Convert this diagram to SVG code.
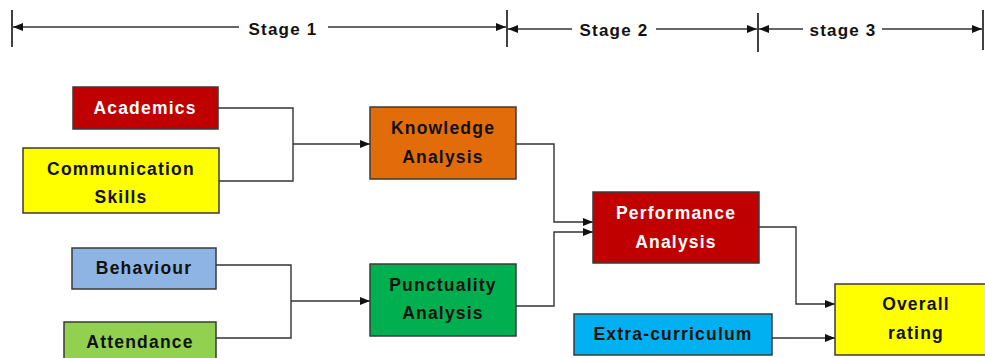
<svg xmlns="http://www.w3.org/2000/svg" width="985" height="358" viewBox="0 0 985 358">
  <style>
    .box { stroke: #3a3a3a; stroke-width: 1.5; }
    .lbl { font-family: "Liberation Sans", Arial, sans-serif; font-weight: bold; font-size: 17.5px; letter-spacing: 1.2px; text-anchor: middle; fill: #111; }
    .wht { fill: #ffffff; }
    .wire { fill: none; stroke: #333; stroke-width: 1.4; }
    .tick { stroke: #111; stroke-width: 1.6; }
    .stage { font-family: "Liberation Sans", Arial, sans-serif; font-weight: bold; font-size: 17px; letter-spacing: 1.2px; text-anchor: middle; fill: #111; }
  </style>
  <defs>
    <marker id="arrow" viewBox="0 0 10 8" refX="10" refY="4" markerWidth="10" markerHeight="8" markerUnits="userSpaceOnUse" orient="auto-start-reverse">
      <path d="M0,0 L10,4 L0,8 z" fill="#111"/>
    </marker>
  </defs>

  <rect width="985" height="358" fill="#ffffff"/>

  <!-- stage ruler -->
  <g id="stages">
    <line class="tick" x1="12" y1="10" x2="12" y2="47"/>
    <line class="tick" x1="507" y1="10" x2="507" y2="47"/>
    <line class="tick" x1="758" y1="13" x2="758" y2="52"/>
    <line class="tick" x1="983" y1="10" x2="983" y2="50"/>
    <line class="wire" x1="239" y1="27" x2="13" y2="27" marker-end="url(#arrow)"/>
    <line class="wire" x1="328" y1="27" x2="506" y2="27" marker-end="url(#arrow)"/>
    <text class="stage" x="283" y="35">Stage 1</text>
    <line class="wire" x1="572" y1="29" x2="508" y2="29" marker-end="url(#arrow)"/>
    <line class="wire" x1="656" y1="29" x2="757" y2="29" marker-end="url(#arrow)"/>
    <text class="stage" x="614" y="36">Stage 2</text>
    <line class="wire" x1="803" y1="29" x2="759" y2="29" marker-end="url(#arrow)"/>
    <line class="wire" x1="882" y1="29" x2="982" y2="29" marker-end="url(#arrow)"/>
    <text class="stage" x="843" y="36">stage 3</text>
  </g>

  <!-- connectors -->
  <g id="connectors">
    <polyline class="wire" points="218,108 293,108 293,181 219,181"/>
    <line class="wire" x1="293" y1="144" x2="370" y2="144" marker-end="url(#arrow)"/>
    <polyline class="wire" points="216,265 291,265 291,338 216,338"/>
    <line class="wire" x1="291" y1="301" x2="370" y2="301" marker-end="url(#arrow)"/>
    <polyline class="wire" points="516,144 554,144 554,222 593,222" marker-end="url(#arrow)"/>
    <polyline class="wire" points="516,306 554,306 554,232 593,232" marker-end="url(#arrow)"/>
    <polyline class="wire" points="759,227 796,227 796,304 835,304" marker-end="url(#arrow)"/>
    <line class="wire" x1="772" y1="338" x2="835" y2="338" marker-end="url(#arrow)"/>
  </g>

  <g id="academics">
    <rect class="box" x="73" y="87" width="145" height="42" fill="#C00000"/>
    <text class="lbl wht" x="145" y="114">Academics</text>
  </g>
  <g id="communication">
    <rect class="box" x="23" y="148" width="196" height="65" fill="#FFFF00"/>
    <text class="lbl" x="121" y="175">Communication</text>
    <text class="lbl" x="121" y="203">Skills</text>
  </g>
  <g id="behaviour">
    <rect class="box" x="72" y="248" width="144" height="41" fill="#8EB4E3"/>
    <text class="lbl" x="144" y="274">Behaviour</text>
  </g>
  <g id="attendance">
    <rect class="box" x="64" y="322" width="152" height="50" fill="#92D050"/>
    <text class="lbl" x="140" y="348">Attendance</text>
  </g>
  <g id="knowledge">
    <rect class="box" x="370" y="107" width="146" height="72" fill="#E36C0A"/>
    <text class="lbl" x="443" y="134">Knowledge</text>
    <text class="lbl" x="443" y="163">Analysis</text>
  </g>
  <g id="punctuality">
    <rect class="box" x="370" y="264" width="146" height="72" fill="#00B050"/>
    <text class="lbl" x="443" y="291">Punctuality</text>
    <text class="lbl" x="443" y="319">Analysis</text>
  </g>
  <g id="performance">
    <rect class="box" x="593" y="192" width="166" height="71" fill="#C00000"/>
    <text class="lbl wht" x="676" y="219">Performance</text>
    <text class="lbl wht" x="676" y="248">Analysis</text>
  </g>
  <g id="extra">
    <rect class="box" x="574" y="314" width="198" height="41" fill="#00B0F0"/>
    <text class="lbl" x="673" y="340">Extra-curriculum</text>
  </g>
  <g id="overall">
    <rect class="box" x="835" y="284" width="162" height="71" fill="#FFFF00"/>
    <text class="lbl" x="916" y="310">Overall</text>
    <text class="lbl" x="916" y="339">rating</text>
  </g>
</svg>
